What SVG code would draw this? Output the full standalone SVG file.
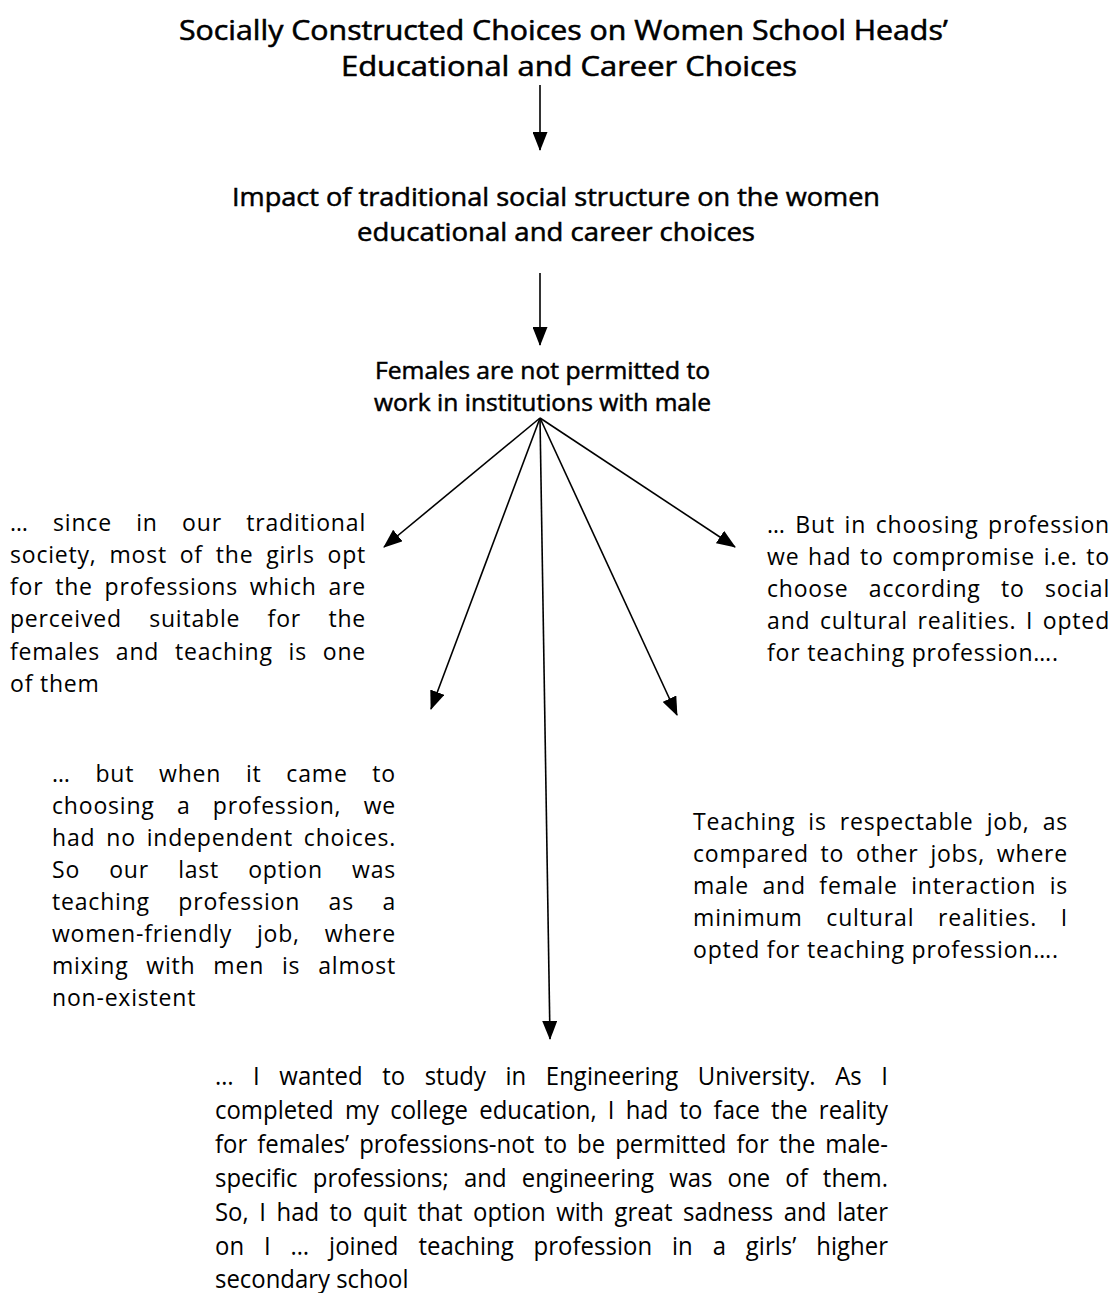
<svg xmlns="http://www.w3.org/2000/svg" width="1118" height="1293" viewBox="0 0 1118 1293">
<style>
text{font-family:"Open Sans","Noto Sans","Liberation Sans",sans-serif;fill:#000}
.t1{font-size:27px;stroke:#000;stroke-width:0.55px}
.t2{font-size:25px;stroke:#000;stroke-width:0.5px}
.t3{font-size:23px;stroke:#000;stroke-width:0.5px}
.b{font-size:23px;letter-spacing:0.8px}
.bb{font-size:26px}
.c{stroke:#000;stroke-width:1.6;fill:none;marker-end:url(#ah)}
</style>
<defs>
<marker id="ah" markerUnits="userSpaceOnUse" markerWidth="19" markerHeight="15" refX="18" refY="7.5" orient="auto" viewBox="0 0 19 15">
<path d="M0,0 L19,7.5 L0,15 z" fill="#000"/>
</marker>
</defs>
<rect width="1118" height="1293" fill="#fff"/>
<g id="connectors">
<line class="c" x1="540" y1="85" x2="540" y2="150"/>
<line class="c" x1="540" y1="273" x2="540" y2="345"/>
<line class="c" x1="540" y1="418" x2="384" y2="547"/>
<line class="c" x1="540" y1="418" x2="431" y2="709"/>
<line class="c" x1="540" y1="418" x2="550" y2="1039"/>
<line class="c" x1="540" y1="418" x2="677" y2="715"/>
<line class="c" x1="540" y1="418" x2="735" y2="547"/>
</g>
<g id="title">
<text class="t1" x="179" y="40" textLength="769" lengthAdjust="spacingAndGlyphs">Socially Constructed Choices on Women School Heads’</text>
<text class="t1" x="341" y="76" textLength="456" lengthAdjust="spacingAndGlyphs">Educational and Career Choices</text>
</g>
<g id="impact">
<text class="t2" x="232" y="206" textLength="648" lengthAdjust="spacingAndGlyphs">Impact of traditional social structure on the women</text>
<text class="t2" x="357" y="241" textLength="398" lengthAdjust="spacingAndGlyphs">educational and career choices</text>
</g>
<g id="females">
<text class="t3" x="375" y="379" textLength="335" lengthAdjust="spacingAndGlyphs">Females are not permitted to</text>
<text class="t3" x="374" y="411" textLength="337" lengthAdjust="spacingAndGlyphs">work in institutions with male</text>
</g>
<g id="quote-left">
<text class="b" x="10" y="531" style="word-spacing:17.5px" textLength="356" lengthAdjust="spacing">… since in our traditional</text>
<text class="b" x="10" y="563" style="word-spacing:6.1px" textLength="356" lengthAdjust="spacing">society, most of the girls opt</text>
<text class="b" x="10" y="595" style="word-spacing:5px" textLength="356" lengthAdjust="spacing">for the professions which are</text>
<text class="b" x="10" y="627" style="word-spacing:20.6px" textLength="356" lengthAdjust="spacing">perceived suitable for the</text>
<text class="b" x="10" y="660" style="word-spacing:9px" textLength="356" lengthAdjust="spacing">females and teaching is one</text>
<text class="b" x="10" y="692">of them</text>
</g>
<g id="quote-right">
<text class="b" x="767" y="533" style="word-spacing:2.8px" textLength="343" lengthAdjust="spacing">… But in choosing profession</text>
<text class="b" x="767" y="565" style="word-spacing:1.8px" textLength="343" lengthAdjust="spacing">we had to compromise i.e. to</text>
<text class="b" x="767" y="597" style="word-spacing:13.6px" textLength="343" lengthAdjust="spacing">choose according to social</text>
<text class="b" x="767" y="629" style="word-spacing:2.7px" textLength="343" lengthAdjust="spacing">and cultural realities. I opted</text>
<text class="b" x="767" y="661">for teaching profession….</text>
</g>
<g id="quote-lower-left">
<text class="b" x="52" y="782" style="word-spacing:17.9px" textLength="344" lengthAdjust="spacing">… but when it came to</text>
<text class="b" x="52" y="814" style="word-spacing:15.5px" textLength="344" lengthAdjust="spacing">choosing a profession, we</text>
<text class="b" x="52" y="846" style="word-spacing:4.1px" textLength="344" lengthAdjust="spacing">had no independent choices.</text>
<text class="b" x="52" y="878" style="word-spacing:22.4px" textLength="344" lengthAdjust="spacing">So our last option was</text>
<text class="b" x="52" y="910" style="word-spacing:21.7px" textLength="344" lengthAdjust="spacing">teaching profession as a</text>
<text class="b" x="52" y="942" style="word-spacing:18.2px" textLength="344" lengthAdjust="spacing">women-friendly job, where</text>
<text class="b" x="52" y="974" style="word-spacing:11px" textLength="344" lengthAdjust="spacing">mixing with men is almost</text>
<text class="b" x="52" y="1006">non-existent</text>
</g>
<g id="quote-lower-right">
<text class="b" x="693" y="830" style="word-spacing:6.4px" textLength="375" lengthAdjust="spacing">Teaching is respectable job, as</text>
<text class="b" x="693" y="862" style="word-spacing:5.1px" textLength="375" lengthAdjust="spacing">compared to other jobs, where</text>
<text class="b" x="693" y="894" style="word-spacing:6.7px" textLength="375" lengthAdjust="spacing">male and female interaction is</text>
<text class="b" x="693" y="926" style="word-spacing:16.8px" textLength="375" lengthAdjust="spacing">minimum cultural realities. I</text>
<text class="b" x="693" y="958">opted for teaching profession….</text>
</g>
<g id="quote-bottom" transform="translate(215,0) scale(0.92,1)">
<text class="bb" x="0" y="1085" style="word-spacing:14.4px" textLength="731.5" lengthAdjust="spacing">… I wanted to study in Engineering University. As I</text>
<text class="bb" x="0" y="1119" style="word-spacing:5.4px" textLength="731.5" lengthAdjust="spacing">completed my college education, I had to face the reality</text>
<text class="bb" x="0" y="1153" style="word-spacing:4.1px" textLength="731.5" lengthAdjust="spacing">for females’ professions-not to be permitted for the male-</text>
<text class="bb" x="0" y="1187" style="word-spacing:9.7px" textLength="731.5" lengthAdjust="spacing">specific professions; and engineering was one of them.</text>
<text class="bb" x="0" y="1221" style="word-spacing:4.7px" textLength="731.5" lengthAdjust="spacing">So, I had to quit that option with great sadness and later</text>
<text class="bb" x="0" y="1255" style="word-spacing:14.8px" textLength="731.5" lengthAdjust="spacing">on I … joined teaching profession in a girls’ higher</text>
<text class="bb" x="0" y="1288">secondary school</text>
</g>
</svg>
